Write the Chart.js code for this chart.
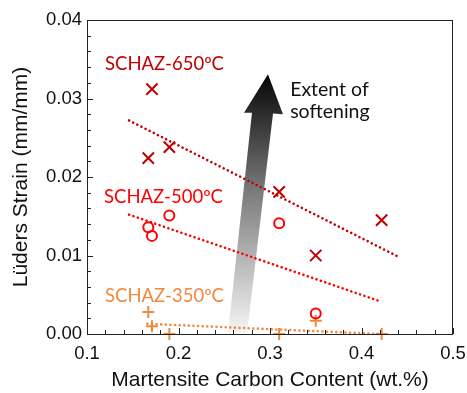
<!DOCTYPE html>
<html>
<head>
<meta charset="utf-8">
<script src="https://cdn.jsdelivr.net/npm/chart.js@4.4.1/dist/chart.umd.min.js"></script>
<style>
  html, body { margin: 0; padding: 0; background: #fff; }
  #wrap { width: 467px; height: 393px; }
</style>
</head>
<body>
<div id="wrap"><canvas id="chart" width="467" height="393"></canvas></div>
<script>
// Values
const carbon650 = [0.171, 0.167, 0.190, 0.310, 0.350, 0.422];
const strain650 = [0.0312, 0.0224, 0.0238, 0.0181, 0.0100, 0.0145];
const carbon500 = [0.167, 0.171, 0.190, 0.310, 0.350];
const strain500 = [0.0136, 0.0125, 0.0151, 0.0141, 0.0026];
const carbon350 = [0.167, 0.171, 0.190, 0.310, 0.350, 0.422];
const strain350 = [0.0028, 0.0010, 0.0000, 0.0000, 0.0017, 0.0000];

// Trend lines, start / end
const trend650X = [0.146, 0.441];
const trend650Y = [0.0272, 0.0098];
const trend500X = [0.146, 0.4195];
const trend500Y = [0.0152, 0.0042];
const trend350X = [0.166, 0.420];
const trend350Y = [0.0013, 0.0000];

const xTickValues = [0.1, 0.2, 0.3, 0.4, 0.5];
const xTickLabels = ['0.1', '0.2', '0.3', '0.4', '0.5'];
const yTickValues = [0, 0.01, 0.02, 0.03, 0.04];
const yTickLabels = ['0.00', '0.01', '0.02', '0.03', '0.04'];

const seriesLabels = ['SCHAZ-650ºC', 'SCHAZ-500ºC', 'SCHAZ-350ºC'];

const C650 = '#c00000';
const C500 = '#ff0000';
const C350 = '#f0883e';
const AXIS_FONT = '"Liberation Sans", Arial, sans-serif';

function pts(xs, ys) {
  return xs.map((x, i) => ({ x: x, y: ys[i] }));
}

function labelFor(values, labels) {
  return function(v) {
    const i = values.findIndex(t => Math.abs(t - v) < 1e-9);
    return i >= 0 ? labels[i] : '';
  };
}

function trend(xs, ys, color) {
  return {
    type: 'line',
    data: pts(xs, ys),
    borderColor: color,
    borderWidth: 2.6,
    borderDash: [0.01, 4.6],
    borderCapStyle: 'round',
    pointRadius: 0,
    fill: false,
    clip: false
  };
}

function marks(xs, ys, color, style, r) {
  return {
    type: 'scatter',
    data: pts(xs, ys),
    borderColor: color,
    backgroundColor: 'rgba(0,0,0,0)',
    pointStyle: style,
    pointRadius: r,
    pointBorderWidth: 2,
    clip: false
  };
}

// arrow outline in data units (x, y)
const arrowShape = [
  [0.2541, 0.0001], [0.2803, 0.0282], [0.2716, 0.0282], [0.2978, 0.0331],
  [0.3142, 0.0280], [0.3033, 0.0281], [0.2749, 0.0001]
];

const decor = {
  id: 'decor',
  beforeDatasetsDraw(chart) {
    const ctx = chart.ctx, xs = chart.scales.x, ys = chart.scales.y;
    const p = arrowShape.map(a => [xs.getPixelForValue(a[0]), ys.getPixelForValue(a[1])]);
    const g = ctx.createLinearGradient(0, p[3][1], 0, p[0][1]);
    g.addColorStop(0, '#050505');
    g.addColorStop(0.45, '#7a7a7a');
    g.addColorStop(1, '#f6f6f6');
    ctx.save();
    ctx.beginPath();
    ctx.moveTo(p[0][0], p[0][1]);
    p.slice(1).forEach(q => ctx.lineTo(q[0], q[1]));
    ctx.closePath();
    ctx.fillStyle = g;
    ctx.fill();
    ctx.restore();
  },
  afterDraw(chart) {
    const ctx = chart.ctx, xs = chart.scales.x, ys = chart.scales.y;
    const a = chart.chartArea;
    ctx.save();
    ctx.strokeStyle = '#222';
    ctx.lineWidth = 1;
    ctx.strokeRect(a.left + 0.5, a.top + 0.5, a.right - a.left - 1, a.bottom - a.top);
    ctx.beginPath();
    ys.ticks.forEach(t => {
      const py = Math.round(ys.getPixelForValue(t.value)) + 0.5;
      const len = yTickValues.some(v => Math.abs(v - t.value) < 1e-9) ? 6 : 4;
      ctx.moveTo(a.left, py); ctx.lineTo(a.left + len, py);
    });
    xs.ticks.forEach(t => {
      const px = Math.round(xs.getPixelForValue(t.value)) + 0.5;
      const len = xTickValues.some(v => Math.abs(v - t.value) < 1e-9) ? 6 : 4;
      ctx.moveTo(px, a.bottom); ctx.lineTo(px, a.bottom - len);
    });
    ctx.stroke();

    ctx.textBaseline = 'middle';
    ctx.textAlign = 'left';
    const txt = (s, x, y, c) => {
      ctx.fillStyle = c;
      ctx.fillText(s, xs.getPixelForValue(x), ys.getPixelForValue(y));
    };
    ctx.font = '18.5px Lato, "Open Sans", sans-serif';
    txt(seriesLabels[0], 0.1197, 0.0344, C650);
    txt(seriesLabels[1], 0.1186, 0.0175, C500);
    txt(seriesLabels[2], 0.1197, 0.0049, C350);
    ctx.font = '19.5px Lato, "Open Sans", sans-serif';
    txt('Extent of', 0.322, 0.0311, '#111');
    txt('softening', 0.322, 0.0283, '#111');
    ctx.restore();
  }
};

new Chart(document.getElementById('chart'), {
  data: {
    datasets: [
      trend(trend650X, trend650Y, C650),
      trend(trend500X, trend500Y, C500),
      trend(trend350X, trend350Y, C350),
      marks(carbon650, strain650, C650, 'crossRot', 8),
      marks(carbon500, strain500, C500, 'circle', 5),
      marks(carbon350, strain350, C350, 'cross', 6)
    ]
  },
  options: {
    responsive: false,
    animation: false,
    layout: { padding: { top: 20, right: 14, left: 0, bottom: 0 } },
    plugins: { legend: { display: false }, tooltip: { enabled: false } },
    scales: {
      x: {
        type: 'linear',
        min: 0.1,
        max: 0.5,
        afterFit: s => { s.height = 59; s.paddingLeft = 0; s.paddingRight = 0; },
        grid: { display: false, drawTicks: false },
        border: { display: false },
        ticks: {
          stepSize: 0.02,
          autoSkip: false,
          maxRotation: 0,
          padding: 9,
          color: '#111',
          font: { family: AXIS_FONT, size: 18.5 },
          callback: labelFor(xTickValues, xTickLabels)
        },
        title: {
          display: true,
          text: 'Martensite Carbon Content (wt.%)',
          color: '#111',
          padding: { top: 0, bottom: 0 },
          font: { family: AXIS_FONT, size: 21 }
        }
      },
      y: {
        type: 'linear',
        min: 0,
        max: 0.04,
        afterFit: s => { s.width = 87; s.paddingTop = 0; s.paddingBottom = 0; },
        grid: { display: false, drawTicks: false },
        border: { display: false },
        ticks: {
          stepSize: 0.002,
          autoSkip: false,
          padding: 5,
          color: '#111',
          font: { family: AXIS_FONT, size: 18.5 },
          callback: labelFor(yTickValues, yTickLabels)
        },
        title: {
          display: true,
          text: 'Lüders Strain (mm/mm)',
          color: '#111',
          padding: { top: 9, bottom: 0 },
          font: { family: AXIS_FONT, size: 21 }
        }
      }
    }
  },
  plugins: [decor]
});
</script>
</body>
</html>
